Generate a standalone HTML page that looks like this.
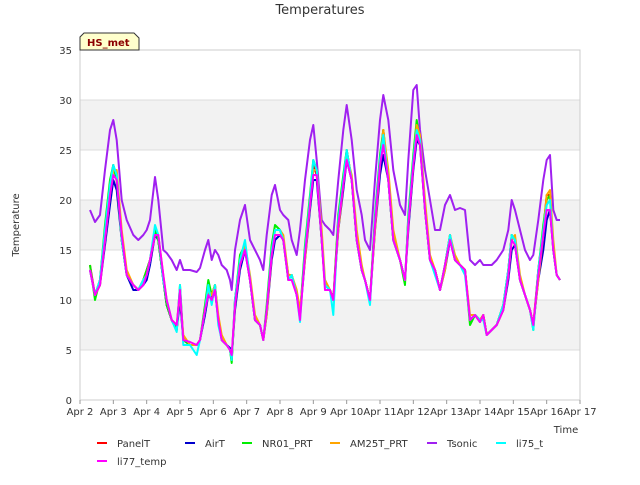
<!DOCTYPE html>
<html><head><meta charset="utf-8"><style>
body{margin:0;background:#fff;font-family:"Liberation Sans","DejaVu Sans",sans-serif}
svg text{font-family:"DejaVu Sans","Liberation Sans",sans-serif}
</style></head><body>
<svg id="chart" width="640" height="480" viewBox="0 0 640 480">
<text x="320" y="14" font-size="13" text-anchor="middle" fill="#333">Temperatures</text>
<text x="19" y="225" font-size="10" text-anchor="middle" fill="#333" transform="rotate(-90 19 225)">Temperature</text>
<text x="566" y="433" font-size="10" text-anchor="middle" fill="#333">Time</text>
<g id="plot"></g>
<g>
<path d="M80,50 L80,37 L84,33 L134,33 L139,38 L139,50 Z" fill="#ffffcc" stroke="#333" stroke-width="1"/>
<text x="87" y="46" font-size="10" font-weight="bold" fill="#8b0000">HS_met</text>
</g>
<g id="legend"></g>
</svg>
<script>
const times=[0.3,0.45,0.6,0.75,0.9,1.0,1.1,1.25,1.4,1.6,1.75,1.9,2.0,2.1,2.25,2.35,2.5,2.6,2.75,2.9,3.0,3.1,3.3,3.5,3.6,3.75,3.85,3.95,4.05,4.15,4.25,4.4,4.5,4.55,4.65,4.8,4.95,5.1,5.25,5.4,5.5,5.6,5.75,5.85,6.0,6.1,6.25,6.35,6.5,6.6,6.75,6.9,7.0,7.1,7.25,7.35,7.5,7.6,7.75,7.9,8.0,8.15,8.3,8.45,8.55,8.7,8.85,9.0,9.1,9.25,9.4,9.6,9.75,9.85,10.0,10.1,10.2,10.35,10.5,10.65,10.8,10.95,11.1,11.25,11.4,11.55,11.7,11.85,12.0,12.1,12.2,12.35,12.5,12.7,12.85,12.95,13.05,13.2,13.35,13.5,13.6,13.75,13.9,14.0,14.1,14.2,14.3,14.4];
const panelT=[13.5,10.5,12,17,21,23.5,22,16,12.5,11.5, 11,12,13,14,17,16,12,9.5,8,7, 11,6,5.5,5.5,6,9,11,10,11.5,8, 6,5.5,5,4,10,14,15.5,12,8,7.5, 6,9,15,17,17,16,12,12.5,10.5,8.5, 15,20,23.5,22.5,16,11.5,11,10,18,22, 25,22,16,13,12,10,18,24,27,22, 16,14,12,18,24,27.5,26,19,14,13, 11,13.5,16.5,14,13.5,13,8,8.5,8,8.5, 6.5,7,7.5,9.5,13,16.5,16,12,10.5,9, 7.5,13,17,20.5,20.5,15,12.5,12];
const airT=[13,10.5,11.5,15.5,19.5,22,21,16,12.5,11, 11,11.5,12,13.5,16.5,16,12,9.5,8,7, 10,6,5.5,5.5,6,8.5,10.5,10,11,8, 6,5.5,5.2,4.2,9,13,15,12,8,7.5, 6,8.5,14,16,16.5,16,12.5,12.5,10.5,8.5, 14,19,22,22,16,11.5,11,10,17,21, 24,22,16,13,12,10,17,22.5,24.5,22, 16,14,12,17,23,26,25.5,19,14,13, 11,13,16,14,13.5,13,8,8.5,7.8,8.5, 6.5,7,7.5,9,12,15,15.5,12,10.5,9, 7.5,12,15,18,19,15,12.5,12];
const nr01=[13.5,10,12,17.5,22,23.5,22,16,12.5,11.5, 11,12,13,14,17,16,12,9.5,8,7, 11.5,6,5.5,5.5,6,9.5,12,10.5,11.5,8, 6,5.5,5,3.7,10,14.5,15.5,12,8,7.5, 6,9.5,15.5,17.5,17,16,12,12.5,10.5,8.5, 15.5,20.5,24,23,16,11.5,11,10,18.5,22.5, 25,22,16,13,12,10,18.5,24.5,27,22, 16,14,11.5,18.5,24.5,28,26,19,14,13, 11,13.5,16.5,14,13.5,13,7.5,8.5,8,8.5, 6.5,7,7.5,9.5,13,16.5,16,12,10.5,9, 7,13,17.5,20,20.5,15,12.5,12];
const am25t=[13,10.5,11.5,16,20.5,23,23,17,13,11.5, 11,12,12.5,14,16.5,16.5,12.5,10,8,7.5, 10.5,6.5,5.5,5.5,6,9,11,10.5,11.5,8.5, 6.5,5.5,5,4.2,9.5,13.5,15.5,12.5,8.5,7.5, 6,8.5,14.5,17,17,16.5,12.5,12.5,11,9, 14,19.5,23,23,17,12,11,10,17,21.5, 24.5,22.5,17,13.5,12,10,17,23.5,27,23, 17,14,12,17.5,23.5,27.5,26.5,20,14.5,13, 11,13,16.5,14.5,13.5,13,8.5,8.5,8,8.5, 6.5,7,7.5,9,12.5,16,16.5,12.5,10.5,9, 7.5,12,16.5,20.5,21,16,12.5,12];
const tsonic=[19,17.8,18.5,23,27,28,26,20,18,16.5, 16,16.5,17,18,22.3,20,15,14.7,14,13, 14,13,13,12.8,13.2,15,16,14,15,14.5, 13.5,13,12,11,15,18,19.5,16,15,14, 13,16.5,20.5,21.5,19,18.5,18,16,14.5,17, 22,26,27.5,24,18,17.5,17,16.5,22,27, 29.5,26,21,18.5,16,15,22,28,30.5,28, 23,19.5,18.5,24,31,31.5,27,23,20,17, 17,19.5,20.5,19,19.2,19,14,13.5,14,13.5, 13.5,13.5,14,15,17,20,19,17,15,14, 14.5,18,22,24,24.5,19,18,18];
const li75=[13,10.5,12,17,21.5,23.5,22.5,16,12.5,11.5, 11,12,12.5,14,17.5,16.5,12,10,8,6.8, 11.5,5.5,5.5,4.5,6,9,11.5,9.5,11.5,7.5, 6,5.5,5,4,10,14,16,12,8,7.5, 6,9,15,17,17,16,12,12.5,10.5,7.8, 15,20,24,23,16,11.5,11,8.5,18,22, 25,22,16,13,12,9.5,18,24,26.5,22, 16,14,12,18,24,27,26,19,14,12.5, 11,13.5,16.5,14,13.5,12.5,8,8.5,8,8, 6.5,7,7.5,9.5,13,16.5,16,12,10.5,9, 7,13,17,19.5,20,15,12.5,12];
const li77=[13,10.5,11.5,16,20.5,22.5,22,16.5,12.5,11.5, 11,11.5,12.5,14,16.5,16.5,12.5,10,8,7.5, 11,6,5.8,5.5,6,9,10.5,10,11,8, 6,5.5,5,4.5,9.5,13.5,15,12,8,7.5, 6,9,14.5,16.5,16.5,16,12,12,10.5,8, 14.5,19.5,22.5,22.5,16,11,11,10,17.5,21.5, 24,22,16,13,12,10,17.5,23.5,25.5,22, 16,14,12,17.5,23.5,26.5,25.5,19,14,13, 11,13.5,16,14,13.5,13,8,8.5,7.8,8.5, 6.5,7,7.5,9,12.5,16,15.5,12,10.5,9, 7.5,12.5,16.5,19,19,15,12.5,12];
const xTickLabels=["Apr 2","Apr 3","Apr 4","Apr 5","Apr 6","Apr 7","Apr 8","Apr 9","Apr 10","Apr 11","Apr 12","Apr 13","Apr 14","Apr 15","Apr 16","Apr 17"];
const yTicks=[0,5,10,15,20,25,30,35];
const seriesNames=["PanelT","AirT","NR01_PRT","AM25T_PRT","Tsonic","li75_t","li77_temp"];
const seriesColors=["#ff0000","#0000cc","#00ee00","#ffa500","#a020f0","#00ffff","#ff00ff"];
const seriesData=[panelT,airT,nr01,am25t,tsonic,li75,li77];

const NS="http://www.w3.org/2000/svg";
const X0=80,X1=580,Y0=400,Y1=50;
const xs=d=>X0+d*(X1-X0)/15;
const ys=v=>Y0-v*(Y0-Y1)/35;
const plot=document.getElementById('plot');
function mk(t,a,p){const e=document.createElementNS(NS,t);for(const k in a)e.setAttribute(k,a[k]);(p||plot).appendChild(e);return e;}
for(let i=0;i<yTicks.length-1;i++){
  if(i%2===1){const r=mk('rect',{x:X0,y:ys(yTicks[i+1]),width:X1-X0,height:ys(yTicks[i])-ys(yTicks[i+1]),fill:'#f2f2f2'});
  
  }
}
yTicks.forEach(v=>{
  const l=mk('line',{x1:X0,x2:X1,y1:ys(v),y2:ys(v),stroke:'#dcdcdc','stroke-width':1});
  
  
  const t=mk('text',{x:X0-8,y:ys(v)+4,'font-size':10,'text-anchor':'end',fill:'#333'});
  t.textContent=v;
  
  
});
const frame=mk('rect',{x:X0,y:Y1,width:X1-X0,height:Y0-Y1,fill:'none',stroke:'#cccccc'});


xTickLabels.forEach((s,i)=>{
  const tk=mk('line',{x1:xs(i),x2:xs(i),y1:Y0,y2:Y0+4,stroke:'#999'});
  
  
  const t=mk('text',{x:xs(i),y:Y0+15,'font-size':10,'text-anchor':'middle',fill:'#333'});
  t.textContent=s;
  
  
});
const order=[4,0,1,2,3,5,6];
order.forEach(si=>{
  const vals=seriesData[si];
  const d=vals.map((v,i)=>(i?'L':'M')+xs(times[i]).toFixed(1)+','+ys(v).toFixed(1)).join(' ');
  const p=mk('path',{d:d,fill:'none',stroke:seriesColors[si],'stroke-width':2,'stroke-linejoin':'round'});
  
  
});
const leg=document.getElementById('legend');
const legPos=[[97,443],[185,443],[242,443],[330,443],[427,443],[496,443],[97,461]];
seriesNames.forEach((n,i)=>{
  const g=mk('g',{},leg);
  
  
  const [lx,ly]=legPos[i];
  mk('line',{x1:lx,x2:lx+10,y1:ly,y2:ly,stroke:seriesColors[i],'stroke-width':2},g);
  const t=mk('text',{x:lx+20,y:ly+4,'font-size':10,fill:'#333'},g);
  t.textContent=n;
});
</script>
</body></html>
